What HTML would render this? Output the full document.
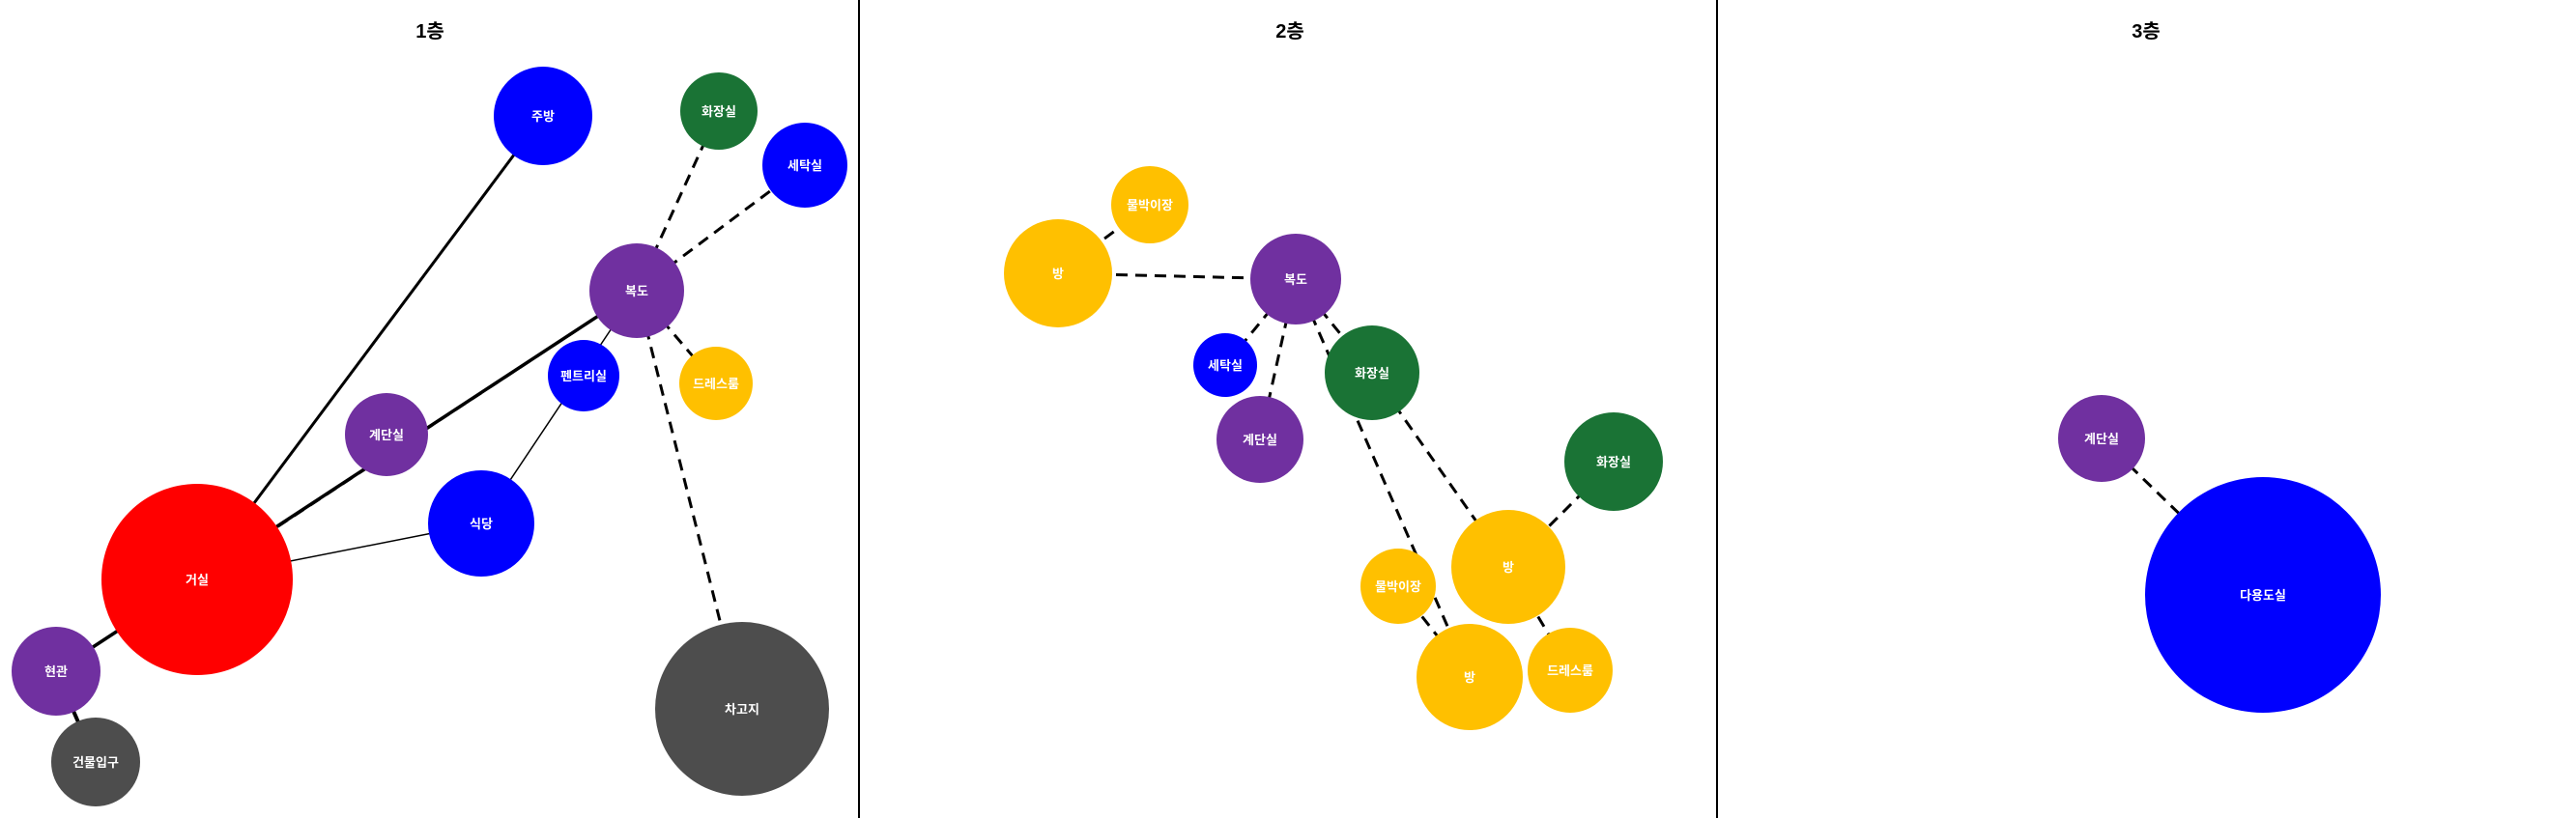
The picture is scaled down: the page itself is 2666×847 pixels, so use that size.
<!DOCTYPE html>
<html><head><meta charset="utf-8">
<style>
html,body{margin:0;padding:0;background:#fff;}
svg{display:block;font-family:"Liberation Sans","Noto Sans CJK KR","NanumGothic",sans-serif;}
</style></head>
<body>
<svg id="chart" width="2666" height="847" viewBox="0 0 2666 847">
<rect x="0" y="0" width="2666" height="847" fill="#fff"/>
<line x1="889" y1="0" x2="889" y2="847" stroke="#000" stroke-width="2"/>
<line x1="1777" y1="0" x2="1777" y2="847" stroke="#000" stroke-width="2"/>
<g id="edges"></g>
<g id="nodes"></g>
<g id="titles"></g>
</svg>
<script>
const panelTitles = ["1층", "2층", "3층"];
const panelTitleX = [445, 1335, 2221];
const C = {purple:"#7030a0", blue:"#0000ff", green:"#1a7335", yellow:"#ffc000", red:"#ff0000", gray:"#4d4d4d"};
const nodeNames  = ["주방","화장실","세탁실","복도","펜트리실","드레스룸","계단실","식당","거실","현관","건물입구","차고지",
                    "물박이장","방","복도","세탁실","화장실","계단실","화장실","방","물박이장","방","드레스룸",
                    "계단실","다용도실"];
const nodeX = [562,744,833,659,604,741,400,498,204,58,99,768, 1190,1095,1341,1268,1420,1304,1670,1561,1447,1521,1625, 2175,2342];
const nodeY = [120,115,171,301,389,397,450,542,600,695,789,734, 212,283,289,378,386,455,478,587,607,701,694, 454,616];
const nodeR = [51,40,44,49,37,38,43,55,99,46,46,90, 40,56,47,33,49,45,51,59,39,55,44, 45,122];
const nodeColor = ["blue","green","blue","purple","blue","yellow","purple","blue","red","purple","gray","gray",
                   "yellow","yellow","purple","blue","green","purple","green","yellow","yellow","yellow","yellow",
                   "purple","blue"];
const edgeFrom = [8,9,8,8,7,3,3,3,3,9,9, 13,13,14,14,14,14,16,19,19,20, 23];
const edgeTo   = [0,3,3,7,3,1,2,5,11,10,8, 12,14,15,17,16,21,19,18,22,21, 24];
const edgeDash = [0,0,1,0,0,1,1,1,1,0,0, 1,1,1,1,1,1,1,1,1,1, 1];
const edgeW    = [3,3.5,3,1.5,1.5,3,3,3,3,4,1.5, 3,3,3,3,3,3,3,3,3,3, 3];

const NS = "http://www.w3.org/2000/svg";
const gE = document.getElementById("edges"), gN = document.getElementById("nodes"), gT = document.getElementById("titles");
for (let i = 0; i < edgeFrom.length; i++) {
  const a = edgeFrom[i], b = edgeTo[i];
  const l = document.createElementNS(NS, "line");
  l.setAttribute("x1", nodeX[a]); l.setAttribute("y1", nodeY[a]);
  l.setAttribute("x2", nodeX[b]); l.setAttribute("y2", nodeY[b]);
  l.setAttribute("stroke", "#000"); l.setAttribute("stroke-width", edgeW[i]);
  if (edgeDash[i]) l.setAttribute("stroke-dasharray", "12 8");
  
  
  gE.appendChild(l);
}
for (let i = 0; i < nodeNames.length; i++) {
  const g = document.createElementNS(NS, "g");
  
  
  const c = document.createElementNS(NS, "circle");
  c.setAttribute("cx", nodeX[i]); c.setAttribute("cy", nodeY[i]); c.setAttribute("r", nodeR[i]);
  c.setAttribute("fill", C[nodeColor[i]]);
  
  
  const t = document.createElementNS(NS, "text");
  t.setAttribute("x", nodeX[i]); t.setAttribute("y", nodeY[i] + 5);
  t.setAttribute("text-anchor", "middle"); t.setAttribute("fill", "#fff");
  t.setAttribute("font-size", "13"); t.setAttribute("font-weight", "bold");
  t.textContent = nodeNames[i];
  
  
  g.appendChild(c); g.appendChild(t); gN.appendChild(g);
}
for (let i = 0; i < panelTitles.length; i++) {
  const t = document.createElementNS(NS, "text");
  t.setAttribute("x", panelTitleX[i]); t.setAttribute("y", 39);
  t.setAttribute("text-anchor", "middle"); t.setAttribute("font-size", "20"); t.setAttribute("font-weight", "bold");
  t.textContent = panelTitles[i];
  
  
  gT.appendChild(t);
}
</script>
</body></html>
